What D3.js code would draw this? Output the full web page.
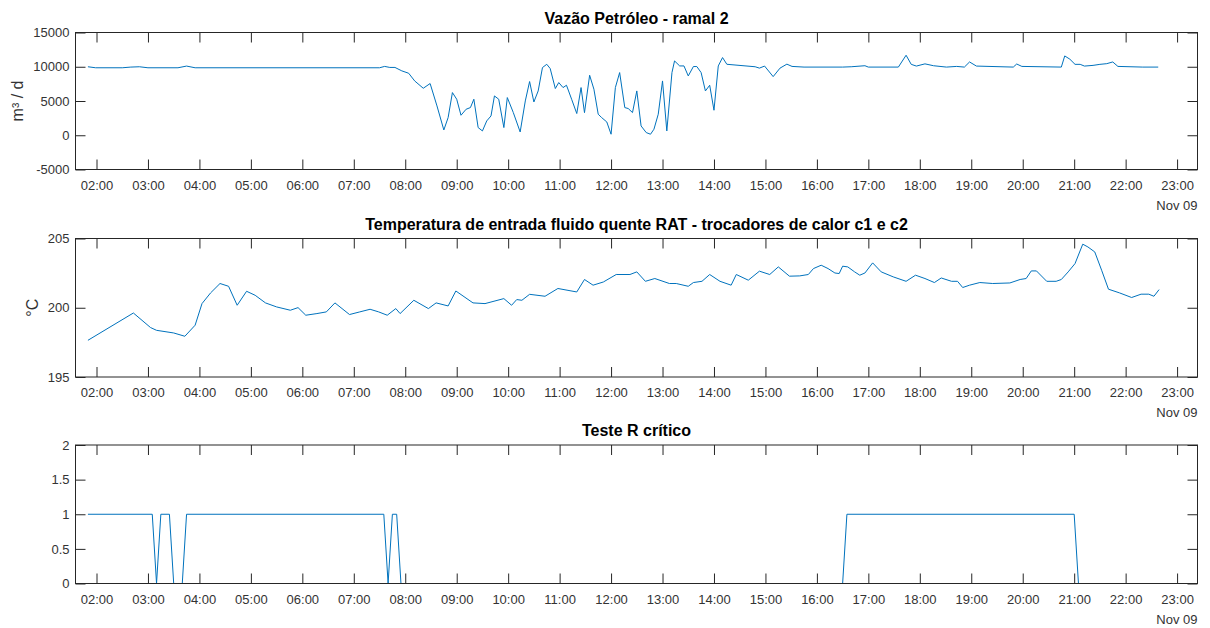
<!DOCTYPE html>
<html>
<head>
<meta charset="utf-8">
<script src="https://cdn.jsdelivr.net/npm/d3@7"></script>
<style>
  html, body { margin: 0; padding: 0; background: #fff; }
  svg { display: block; font-family: "Liberation Sans", Arial, Helvetica, sans-serif; }
</style>
</head>
<body>
<svg id="chart" width="1210" height="628"></svg>
<script>
// ---------------- DATA ----------------
const dayLabel = "Nov 09";
const xStart = "01:35:30";
const xEnd = "23:23:48";

const titles = [
  "Vazão Petróleo - ramal 2",
  "Temperatura de entrada fluido quente RAT - trocadores de calor c1 e c2",
  "Teste R crítico"
];
const yLabels = ["m³ / d", "°C", ""];

const flowTicks = [-5000, 0, 5000, 10000, 15000];
const tempTicks = [195, 200, 205];
const testTicks = [0, 0.5, 1, 1.5, 2];

const flowTimes = ["01:50","01:59","02:30","02:40","02:50","03:00","03:35","03:45","03:55","07:30",
  "07:36","07:42","07:48","07:56","08:04","08:11","08:21","08:29","08:37","08:45",
  "08:50","08:55","09:00","09:05","09:11","09:16","09:20","09:25","09:30","09:35",
  "09:40","09:44","09:49","09:55","09:59","10:06","10:14","10:20","10:25","10:30",
  "10:35","10:40","10:45","10:49","10:55","10:59","11:04","11:08","11:14","11:20",
  "11:25","11:29","11:35","11:40","11:45","11:49","11:55","12:00","12:05","12:10",
  "12:16","12:20","12:25","12:30","12:35","12:41","12:46","12:50","12:55","13:00",
  "13:05","13:11","13:14","13:20","13:25","13:30","13:36","13:40","13:45","13:50",
  "13:55","14:00","14:05","14:10","14:15","14:48","14:53","14:59","15:09","15:17",
  "15:25","15:31","15:45","16:30","16:40","16:56","17:00","17:35","17:44","17:50",
  "17:56","18:06","18:16","18:31","18:43","18:52","18:58","19:06","19:49","19:53",
  "19:59","20:45","20:49","20:55","21:01","21:07","21:12","21:22","21:30","21:38",
  "21:45","21:51","22:20","22:38"];
const flowValues = [10000,9850,9850,9950,10000,9850,9850,10100,9850,9850,
  10050,9900,9900,9400,9050,7930,6860,7550,4280,770,
  2580,6230,5260,2920,3800,4040,5260,1120,630,2090,
  2820,5740,5260,1120,5500,3310,480,5010,7840,4860,
  6470,9880,10360,9740,6820,7690,6960,7300,5260,3170,
  6960,3300,8760,6720,3070,2580,1940,150,6960,9150,
  4040,3900,3310,6470,1360,390,150,880,3070,7930,
  630,9150,10850,10120,10120,8660,10030,10030,9150,6470,
  7300,3650,10120,11340,10360,10000,9800,10100,8560,9800,
  10380,10050,9950,9950,10000,10150,9950,9950,11680,10350,
  10100,10420,10150,9950,10050,9950,10700,10100,9950,10400,
  10050,9950,11580,11100,10350,10350,10100,10200,10350,10450,
  10700,10050,9950,9950];

const tempTimes = ["01:50","02:43","03:03","03:10","03:30","03:43","03:55","04:03","04:13","04:24",
  "04:34","04:44","04:55","05:05","05:17","05:30","05:46","05:55","06:04","06:17",
  "06:28","06:38","06:55","07:07","07:19","07:29","07:39","07:49","07:54","08:10",
  "08:27","08:36","08:50","08:59","09:19","09:33","09:55","10:04","10:10","10:16",
  "10:25","10:43","10:58","11:20","11:29","11:39","11:51","12:06","12:22","12:30",
  "12:40","12:51","13:08","13:16","13:30","13:36","13:46","13:55","14:07","14:20",
  "14:26","14:40","14:53","15:05","15:15","15:28","15:40","15:50","15:56","16:05",
  "16:13","16:21","16:26","16:30","16:36","16:44","16:50","16:56","17:05","17:15",
  "17:29","17:44","17:55","18:06","18:17","18:25","18:37","18:44","18:50","18:58",
  "19:10","19:25","19:45","19:57","20:04","20:10","20:16","20:28","20:39","20:45",
  "20:53","21:01","21:10","21:16","21:24","21:32","21:40","21:53","22:07","22:18",
  "22:27","22:33","22:39"];
const tempValues = [197.65,199.62,198.57,198.37,198.18,197.94,198.74,200.30,201.07,201.75,
  201.55,200.18,201.19,200.90,200.35,200.06,199.82,200.01,199.46,199.58,
  199.70,200.35,199.51,199.70,199.89,199.70,199.46,199.94,199.58,200.54,
  199.94,200.35,200.13,201.21,200.35,200.30,200.66,200.18,200.59,200.54,
  200.97,200.83,201.39,201.14,202.04,201.63,201.86,202.40,202.40,202.59,
  201.91,202.11,201.75,201.75,201.55,201.82,201.91,202.40,201.91,201.63,
  202.40,201.99,202.64,202.40,202.95,202.28,202.30,202.40,202.83,203.07,
  202.83,202.51,202.47,203.00,202.95,202.59,202.35,202.51,203.24,202.59,
  202.23,201.91,202.35,202.11,201.82,202.15,201.91,201.91,201.46,201.63,
  201.82,201.75,201.79,202.04,202.11,202.66,202.66,201.91,201.91,202.04,
  202.59,203.19,204.59,204.39,204.03,202.71,201.34,201.07,200.74,200.98,
  200.98,200.83,201.31];

const testTimes = ["01:50","03:05","03:10","03:15","03:25","03:30","03:40","03:45","07:35","07:40",
  "07:45","07:50","07:55","16:30","16:35","21:00","21:05","22:40"];
const testValues = [1,1,0,1,1,0,0,1,1,0,
  1,1,0,0,1,1,0,0];

// ---------------- DRAW ----------------
const svg = d3.select("#chart");
const baseDate = "2016-11-09T";
const parseT = s => new Date(baseDate + (s.length === 5 ? s + ":00" : s));

const x = d3.scaleTime()
  .domain([parseT(xStart), parseT(xEnd)])
  .range([75.5, 1197.5]);

const panels = [
  { top: 32.5, bottom: 169.5, domain: [-5000, 15000], ticks: flowTicks, times: flowTimes, values: flowValues, ylx: 17 },
  { top: 238.5, bottom: 377, domain: [195, 205], ticks: tempTicks, times: tempTimes, values: tempValues, ylx: 32 },
  { top: 445, bottom: 583.5, domain: [0, 2], ticks: testTicks, times: testTimes, values: testValues, ylx: 0 }
];

const axisColor = "#262626";
const labelColor = "#333";
const lineColor = "#0072BD";
const hourTicks = d3.timeHour.every(1);
const fmtHour = d3.timeFormat("%H:%M");

panels.forEach((p, i) => {
  const y = d3.scaleLinear().domain(p.domain).range([p.bottom, p.top]);
  const g = svg.append("g");

  g.append("rect")
    .attr("x", x.range()[0]).attr("y", p.top)
    .attr("width", x.range()[1] - x.range()[0]).attr("height", p.bottom - p.top)
    .attr("fill", "#fff");

  const pts = p.times.map((t, k) => ({ t: parseT(t), v: p.values[k] }));
  g.append("path")
    .datum(pts)
    .attr("fill", "none")
    .attr("stroke", lineColor)
    .attr("stroke-width", 1)
    .attr("stroke-linejoin", "round")
    .attr("d", d3.line().x(d => x(d.t)).y(d => y(d.v)));

  const bottomAx = g.append("g").attr("transform", `translate(0,${p.bottom})`)
    .call(d3.axisBottom(x).ticks(hourTicks).tickFormat(fmtHour).tickSize(-10).tickPadding(11));
  const topAx = g.append("g").attr("transform", `translate(0,${p.top})`)
    .call(d3.axisTop(x).ticks(hourTicks).tickFormat("").tickSize(-10));
  const leftAx = g.append("g").attr("transform", `translate(${x.range()[0]},0)`)
    .call(d3.axisLeft(y).tickValues(p.ticks).tickFormat(d => String(d)).tickSize(-10).tickPadding(6));
  const rightAx = g.append("g").attr("transform", `translate(${x.range()[1]},0)`)
    .call(d3.axisRight(y).tickValues(p.ticks).tickFormat("").tickSize(-10));

  [bottomAx, topAx, leftAx, rightAx].forEach(a => {
    a.select(".domain").remove();
    a.selectAll(".tick line").attr("stroke", axisColor).attr("stroke-width", 1);
    a.selectAll(".tick text").attr("fill", labelColor).attr("font-size", 13)
      .attr("font-family", "'Liberation Sans', Arial, Helvetica, sans-serif");
  });

  g.append("rect")
    .attr("x", x.range()[0]).attr("y", p.top)
    .attr("width", x.range()[1] - x.range()[0]).attr("height", p.bottom - p.top)
    .attr("fill", "none").attr("stroke", axisColor).attr("stroke-width", 1);

  g.append("text")
    .attr("x", x.range()[1]).attr("y", p.bottom + 40)
    .attr("text-anchor", "end").attr("font-size", 13).attr("fill", labelColor)
    .text(dayLabel);

  g.append("text")
    .attr("x", (x.range()[0] + x.range()[1]) / 2).attr("y", p.top - 9)
    .attr("text-anchor", "middle").attr("font-size", 16).attr("font-weight", "bold")
    .attr("fill", "#000")
    .text(titles[i]);

  if (yLabels[i]) {
    g.append("text")
      .attr("transform", `translate(${p.ylx},${(p.top + p.bottom) / 2}) rotate(-90)`)
      .attr("text-anchor", "middle").attr("dy", "0.35em")
      .attr("font-size", 16).attr("fill", labelColor)
      .text(yLabels[i]);
  }
});
</script>
</body>
</html>
